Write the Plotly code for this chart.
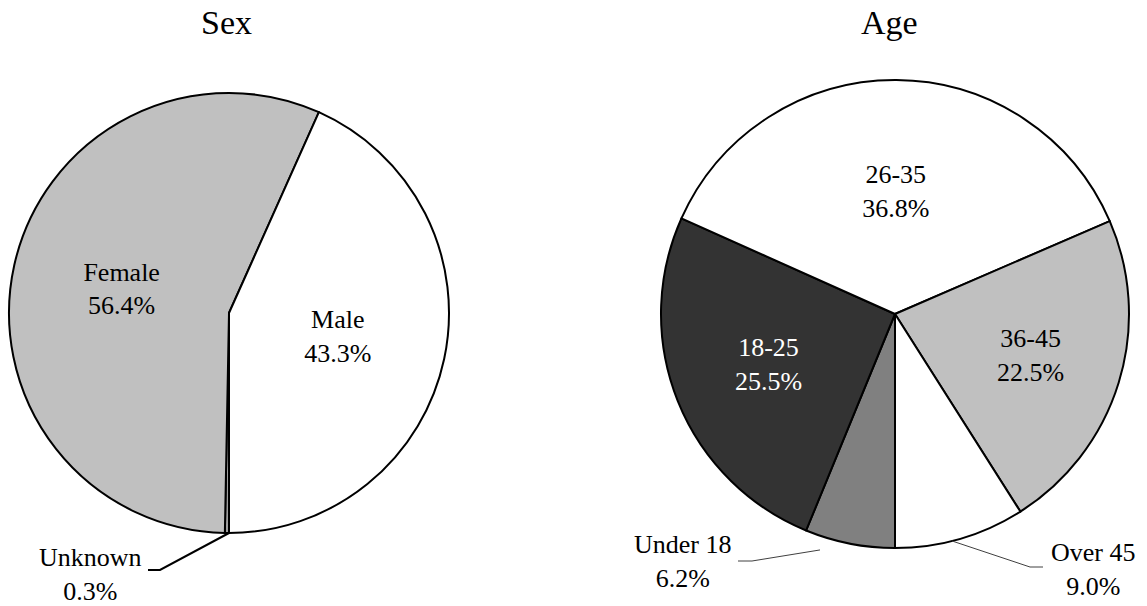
import math
import plotly.graph_objects as go

W, H = 1147, 606

# ---- data ----
sex_labels = ["Unknown", "Female", "Male"]
sex_values = [0.3, 56.4, 43.3]
sex_colors = ["#a0a0a0", "#c0c0c0", "#ffffff"]

age_labels = ["Under 18", "18-25", "26-35", "36-45", "Over 45"]
age_values = [6.2, 25.5, 36.8, 22.5, 9.0]
age_colors = ["#808080", "#333333", "#ffffff", "#c0c0c0", "#ffffff"]
age_text_colors = ["black", "white", "black", "black", "black"]

FONT = "Liberation Serif"
LABEL_SIZE = 26

# pie geometry in pixels (center x, center y, radius)
SEX_GEOM = (229, 313, 220)
AGE_GEOM = (895, 314, 234)


def px(x, y):
    return x / W, 1 - y / H


def domain(geom):
    cx, cy, r = geom
    x0, y1 = px(cx - r, cy + r)
    x1, y0 = px(cx + r, cy - r)
    return dict(x=[x0, x1], y=[y1, y0])


def slice_point(values, idx, geom, frac=0.5, factor=1.0, rotation=180):
    total = sum(values)
    start = rotation + 360 * sum(values[:idx]) / total
    ang = start + 360 * frac * values[idx] / total
    a = math.radians(ang)
    cx, cy, r = geom
    return cx + factor * r * math.sin(a), cy - factor * r * math.cos(a)


fig = go.Figure()

fig.add_trace(go.Pie(
    labels=sex_labels, values=sex_values, sort=False, direction="clockwise", rotation=180,
    marker=dict(colors=sex_colors, line=dict(color="black", width=2)),
    texttemplate="%{label}<br>%{percent:.1%}",
    textposition=["none", "inside", "inside"],
    insidetextorientation="horizontal",
    insidetextfont=dict(family=FONT, size=LABEL_SIZE, color="black"),
    domain=domain(SEX_GEOM), showlegend=False, hoverinfo="label+percent",
))

fig.add_trace(go.Pie(
    labels=age_labels, values=age_values, sort=False, direction="clockwise", rotation=180,
    marker=dict(colors=age_colors, line=dict(color="black", width=2)),
    texttemplate="%{label}<br>%{percent:.1%}",
    textposition=["none", "inside", "inside", "inside", "none"],
    insidetextorientation="horizontal",
    insidetextfont=dict(family=FONT, size=LABEL_SIZE, color=age_text_colors),
    domain=domain(AGE_GEOM), showlegend=False, hoverinfo="label+percent",
))

shapes = []
annotations = []

# titles
for title, x in [("Sex", 226), ("Age", 890)]:
    tx, ty = px(x, 23)
    annotations.append(dict(text=title, x=tx, y=ty, xref="paper", yref="paper", showarrow=False,
                            xanchor="center", yanchor="middle",
                            font=dict(family=FONT, size=34, color="black")))

# outside labels with leader lines
outside = [
    # (labels, values, idx, geom, frac, factor, elbow, end, text pos, color, width)
    (sex_labels, sex_values, 0, SEX_GEOM, 0.0, 1.0, (160, 570), (148, 570), (90, 574), "black", 2),
    (age_labels, age_values, 0, AGE_GEOM, 0.79, 1.058, (752, 561), (738, 561), (682, 561), "#404040", 1),
    (age_labels, age_values, 4, AGE_GEOM, 0.565, 1.0, (1030, 567), (1043, 567), (1093, 569), "#404040", 1),
]
for labels, values, idx, geom, frac, f, elbow, end, tpos, col, lw in outside:
    sx, sy = slice_point(values, idx, geom, frac=frac, factor=f)
    pts = [(sx, sy), elbow, end]
    path = "M " + " L ".join(f"{px(x, y)[0]},{px(x, y)[1]}" for x, y in pts)
    shapes.append(dict(type="path", path=path, xref="paper", yref="paper",
                       line=dict(color=col, width=lw)))
    total = sum(values)
    tx, ty = px(*tpos)
    annotations.append(dict(text=f"{labels[idx]}<br>{100 * values[idx] / total:.1f}%", x=tx, y=ty,
                            xref="paper", yref="paper", showarrow=False,
                            xanchor="center", yanchor="middle",
                            font=dict(family=FONT, size=LABEL_SIZE, color="black")))

fig.update_layout(
    width=W, height=H, margin=dict(l=0, r=0, t=0, b=0),
    paper_bgcolor="white", plot_bgcolor="white",
    shapes=shapes, annotations=annotations,
    font=dict(family=FONT, color="black"),
)

fig.write_html("out.html", config={"displayModeBar": False},
               post_script="document.body.style.margin='0';document.body.style.overflow='hidden';")
